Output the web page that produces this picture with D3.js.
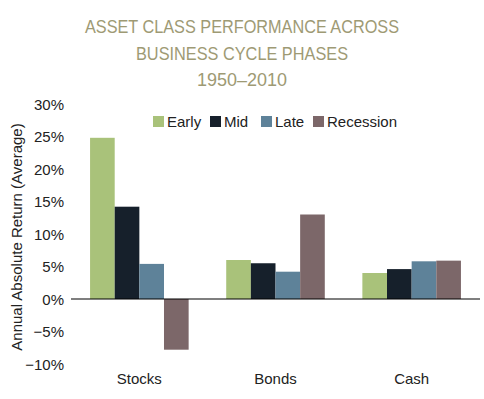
<html>
<head>
    <script src="https://cdn.jsdelivr.net/npm/d3@7/dist/d3.min.js"></script>
    <style>
        body { margin: 0; background: #fff; }
        text { font-family: "Liberation Sans", Arial, sans-serif; }
    </style>
</head>
<body>
    <script type="text/javascript">
        var width = 484;
        var height = 399;

        var margin = { top: 104, right: 4, bottom: 35, left: 71 };

        // Chart data
        var categories = ["Stocks", "Bonds", "Cash"];
        var phases = ["Early", "Mid", "Late", "Recession"];
        var early = [24.8, 6.0, 4.0];
        var mid = [14.2, 5.5, 4.6];
        var late = [5.4, 4.2, 5.8];
        var recession = [-7.8, 13.0, 5.9];
        var yTicks = [30, 25, 20, 15, 10, 5, 0, -5, -10];
        var titleLines = ["ASSET CLASS PERFORMANCE ACROSS", "BUSINESS CYCLE PHASES", "1950\u20132010"];
        var titleWidths = [314, 212, 90];

        var colors = ["#a9c27a", "#16202b", "#5e8299", "#7c6769"];
        var series = [early, mid, late, recession];

        const svg = d3.select("body").append("svg")
            .attr("width", width)
            .attr("height", height);

        // Title (condensed face approximated by squeezing the text)
        svg.append("g")
            .selectAll("text")
            .data(titleLines)
            .join("text")
                .attr("x", 242)
                .attr("y", (d, i) => 33 + i * 26.5)
                .attr("text-anchor", "middle")
                .attr("textLength", (d, i) => titleWidths[i])
                .attr("lengthAdjust", "spacingAndGlyphs")
                .style("font-size", "17.5px")
                .style("fill", "#9e9a74")
                .text(d => d);

        var yScale = d3.scaleLinear()
            .domain([-10, 30])
            .range([364, 104]);

        var x0 = d3.scaleBand()
            .domain(categories)
            .range([margin.left, width - margin.right])
            .paddingInner(0.276)
            .paddingOuter(0.14);

        var x1 = d3.scaleBand()
            .domain(phases)
            .range([0, x0.bandwidth()]);

        // y tick labels
        svg.append("g")
            .selectAll("text")
            .data(yTicks)
            .join("text")
                .attr("x", 64)
                .attr("y", d => yScale(d) + 5.5)
                .attr("text-anchor", "end")
                .style("font-size", "15px")
                .style("fill", "#222")
                .text(d => (d < 0 ? "\u2212" + Math.abs(d) : d) + "%");

        // Axis title
        svg.append("text")
            .attr("transform", "translate(22," + (yScale(10) + 3) + ") rotate(-90)")
            .attr("text-anchor", "middle")
            .style("font-size", "15px")
            .style("fill", "#222")
            .text("Annual Absolute Return (Average)");

        // Bars
        var groups = svg.append("g")
            .selectAll("g")
            .data(categories)
            .join("g")
                .attr("transform", d => "translate(" + x0(d) + ",0)");

        groups.selectAll("rect")
            .data((d, ci) => phases.map((p, pi) => ({ phase: p, value: series[pi][ci], color: colors[pi] })))
            .join("rect")
                .attr("x", d => x1(d.phase))
                .attr("width", x1.bandwidth())
                .attr("y", d => yScale(Math.max(0, d.value)))
                .attr("height", d => Math.abs(yScale(d.value) - yScale(0)))
                .style("fill", d => d.color);

        // Zero line
        svg.append("line")
            .attr("x1", margin.left)
            .attr("x2", width - margin.right)
            .attr("y1", yScale(0))
            .attr("y2", yScale(0))
            .style("stroke", "#000")
            .style("stroke-width", 1.2);

        // Category labels
        svg.append("g")
            .selectAll("text")
            .data(categories)
            .join("text")
                .attr("x", d => x0(d) + x0.bandwidth() / 2)
                .attr("y", 384)
                .attr("text-anchor", "middle")
                .style("font-size", "15px")
                .style("fill", "#222")
                .text(d => d);

        // Legend
        var legendX = [153, 210, 261, 313];
        var legend = svg.append("g")
            .selectAll("g")
            .data(phases)
            .join("g")
                .attr("transform", (d, i) => "translate(" + legendX[i] + ",116)");

        legend.append("rect")
            .attr("width", 11)
            .attr("height", 11)
            .style("fill", (d, i) => colors[i]);

        legend.append("text")
            .attr("x", 14)
            .attr("y", 10.5)
            .style("font-size", "15px")
            .style("fill", "#222")
            .text(d => d);
    </script>
</body>
</html>
